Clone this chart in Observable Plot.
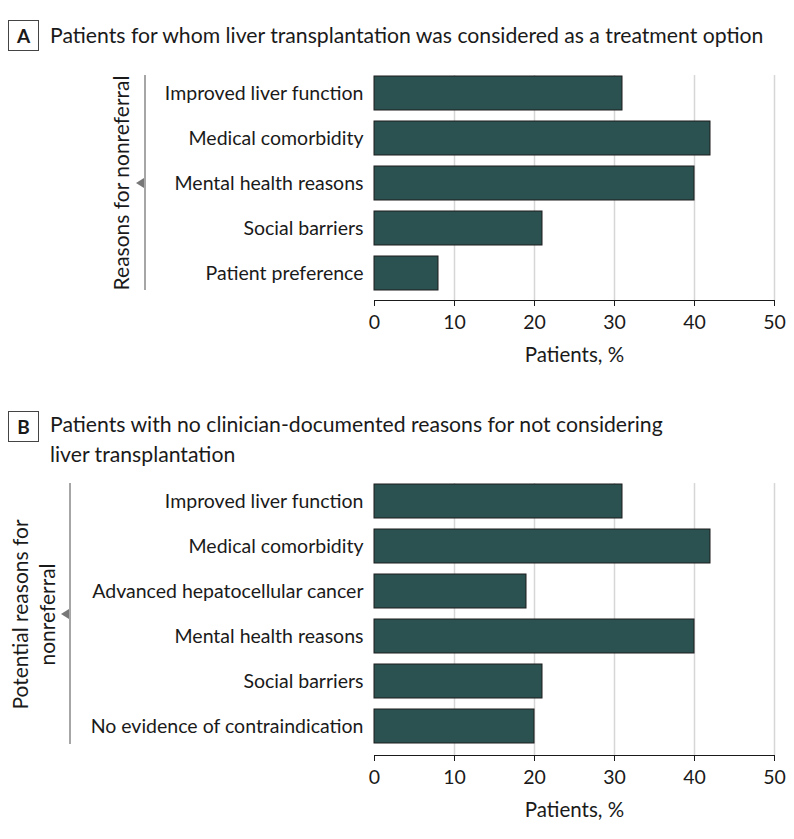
<!DOCTYPE html>
<html>
<head>
<meta charset="utf-8">
<script src="https://cdn.jsdelivr.net/npm/d3@7"></script>
<script src="https://cdn.jsdelivr.net/npm/@observablehq/plot@0.6"></script>
<style>
  html, body { margin: 0; padding: 0; background: #fff; }
  #page { position: relative; width: 794px; height: 839px; font-family: Lato, "Open Sans", sans-serif; color: #1a1a1a; overflow: hidden; }
  .box { position: absolute; width: 31px; height: 31px; border: 1px solid #444; box-sizing: border-box; font-weight: 700; font-size: 19px; text-align: center; line-height: 29px; }
  .title { position: absolute; left: 50px; font-size: 21.2px; line-height: 30px; white-space: nowrap; }
  .panel { position: absolute; left: 0; }
</style>
</head>
<body>
<div id="page">
  <div class="box" style="left:8px; top:20px;">A</div>
  <div class="title" id="titleA" style="top:20px;">Patients for whom liver transplantation was considered as a treatment option</div>
  <div class="panel" id="panelA" style="top:55px;"></div>
  <div class="box" style="left:8px; top:411px;">B</div>
  <div class="title" id="titleB" style="top:409px;">Patients with no clinician-documented reasons for not considering<br>liver transplantation</div>
  <div class="panel" id="panelB" style="top:465px;"></div>
</div>
<script>
// ---- Data ----
const reasonsA = ["Improved liver function", "Medical comorbidity", "Mental health reasons", "Social barriers", "Patient preference"];
const valuesA = [31, 42, 40, 21, 8];
const reasonsB = ["Improved liver function", "Medical comorbidity", "Advanced hepatocellular cancer", "Mental health reasons", "Social barriers", "No evidence of contraindication"];
const valuesB = [31, 42, 19, 40, 21, 20];
const xTicks = [0, 10, 20, 30, 40, 50];
const gridTicks = [10, 20, 30, 40, 50];
const xLabel = "Patients, %";
const yTitleA = "Reasons for nonreferral";
const yTitleB = "Potential reasons for\nnonreferral";

const BAR = "#2b5250";
const FONT = "Lato, 'Open Sans', sans-serif";

function makePanel(reasons, values, opts) {
  const data = reasons.map((r, i) => ({reason: r, value: values[i]}));
  const chart = Plot.plot({
    width: 794,
    height: opts.height,
    marginLeft: 374,
    marginRight: 20,
    marginTop: opts.marginTop,
    marginBottom: opts.marginBottom,
    style: {fontFamily: FONT, fontSize: "19.5px", color: "#1a1a1a", background: "transparent", overflow: "visible"},
    x: {domain: [0, 50], ticks: xTicks, tickSize: 6, tickPadding: 9, line: true, label: null},
    y: {domain: reasons, range: opts.yRange, paddingInner: 0.253, paddingOuter: 0, tickSize: 0, tickPadding: 11, label: null},
    marks: [
      Plot.ruleX(gridTicks, {stroke: "#d6d6d6", strokeWidth: 1.5}),
      Plot.barX(data, {x: "value", y: "reason", fill: BAR, stroke: "#1c1c1c", strokeWidth: 1}),
      Plot.text([xLabel], {frameAnchor: "bottom", dy: opts.xLabelDy, fontSize: 20.5, fill: "#1a1a1a"}),
      Plot.text([opts.yTitle], {frameAnchor: "left", textAnchor: "middle", lineAnchor: "middle", dx: opts.yTitleDx, dy: opts.yTitleDy, rotate: -90, fontSize: 21, lineHeight: 1.3, fill: "#1a1a1a"})
    ]
  });
  // decorative bracket line and triangle beside the y title
  const svg = d3.select(chart);
  const top = opts.yRange[0];
  const bottom = opts.yRange[1];
  const mid = opts.triY;
  svg.append("line")
    .attr("x1", opts.lineX).attr("x2", opts.lineX)
    .attr("y1", top).attr("y2", bottom)
    .attr("stroke", "#888").attr("stroke-width", 1.5);
  svg.append("path")
    .attr("d", `M${opts.lineX - 1},${mid - 5} L${opts.lineX - 9},${mid} L${opts.lineX - 1},${mid + 5} Z`)
    .attr("fill", "#777");
  return chart;
}

document.getElementById("panelA").appendChild(makePanel(reasonsA, valuesA, {
  height: 320, marginTop: 20, marginBottom: 75, yRange: [20, 235],
  xLabelDy: 61, yTitle: yTitleA, yTitleDx: -254, yTitleDy: -5,
  lineX: 145, triY: 128
}));
document.getElementById("panelB").appendChild(makePanel(reasonsB, valuesB, {
  height: 370, marginTop: 18, marginBottom: 80, yRange: [18, 279],
  xLabelDy: 61, yTitle: yTitleB, yTitleDx: -342, yTitleDy: -5,
  lineX: 70, triY: 149
}));
</script>
</body>
</html>
